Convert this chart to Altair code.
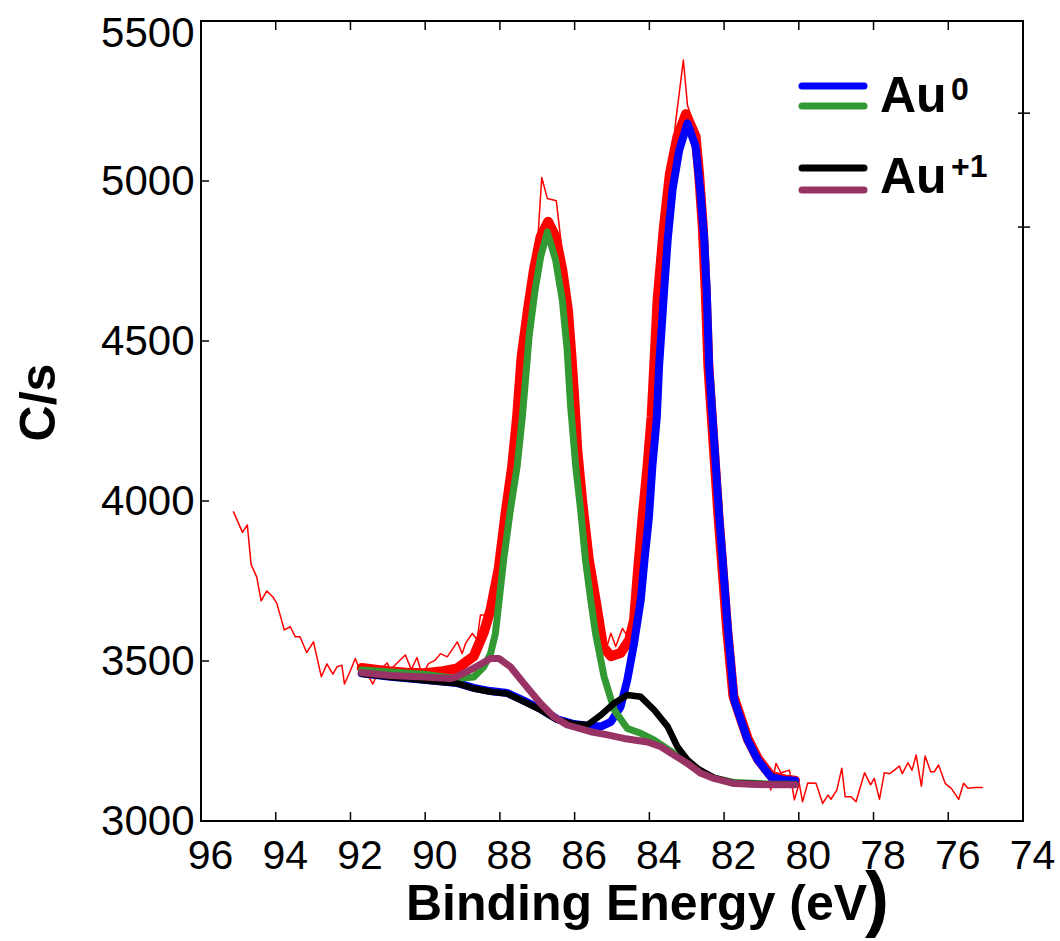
import altair as alt
import pandas as pd

# ---------------- data ----------------
RAW_X = [95.13, 94.89, 94.76, 94.66, 94.51, 94.39, 94.24, 94.08, 93.97, 93.77, 93.61, 93.48, 93.35,
         93.17, 92.99, 92.78, 92.63, 92.47, 92.36, 92.23, 92.16, 92.01, 91.87, 91.74, 91.56, 91.40,
         91.25, 91.02, 90.93, 90.75, 90.53, 90.37, 90.22, 90.08, 89.91, 89.73, 89.59, 89.41, 89.14,
         89.01, 88.92, 88.74, 88.61, 88.52, 88.39, 88.25, 88.10, 87.95, 87.80, 87.65, 87.50, 87.35,
         87.20, 87.05, 86.97, 86.88, 86.73, 86.49, 86.36, 86.27, 86.15, 86.02, 85.90, 85.75, 85.60,
         85.45, 85.30, 85.15, 85.03, 84.90, 84.72, 84.60, 84.45, 84.30, 84.15, 84.00, 83.85, 83.70,
         83.55, 83.40, 83.29, 83.09, 82.98, 82.85, 82.70, 82.55, 82.42, 82.28, 82.12, 81.97, 81.82,
         81.66, 81.50, 81.35, 81.20, 81.05, 80.88, 80.75, 80.61, 80.48, 80.39, 80.25, 80.12, 79.99,
         79.90, 79.76, 79.54, 79.36, 79.22, 79.14, 78.98, 78.85, 78.76, 78.60, 78.47, 78.24, 78.08,
         77.98, 77.84, 77.71, 77.57, 77.44, 77.31, 77.23, 77.08, 76.97, 76.86, 76.72, 76.62, 76.47,
         76.37, 76.26, 76.08, 75.92, 75.72, 75.59, 75.47, 75.30, 75.09]
RAW_Y = [3966, 3902, 3925, 3802, 3763, 3688, 3719, 3701, 3680, 3597, 3607, 3576, 3576,
         3526, 3560, 3451, 3491, 3459, 3482, 3487, 3428, 3467, 3508, 3467, 3461, 3428,
         3467, 3494, 3473, 3494, 3519, 3473, 3511, 3456, 3492, 3503, 3523, 3513, 3560,
         3523, 3555, 3586, 3567, 3644, 3644, 3700, 3780, 3880, 4010, 4140, 4300, 4470,
         4620, 4760, 4847, 5011, 4945, 4938, 4805, 4691, 4560, 4330, 4150, 3960, 3800,
         3680, 3590, 3540, 3587, 3545, 3602, 3580, 3640, 3800, 3980, 4180, 4450, 4720,
         4950, 5070, 5191, 5378, 5237, 5190, 5080, 4830, 4450, 4200, 3940, 3700, 3480,
         3330, 3290, 3240, 3200, 3175, 3180, 3097, 3180, 3150, 3154, 3159, 3066, 3118,
         3060, 3119, 3118, 3055, 3081, 3068, 3097, 3165, 3076, 3076, 3060, 3151, 3113,
         3133, 3068, 3151, 3148, 3159, 3172, 3148, 3182, 3159, 3206, 3109, 3203, 3154,
         3154, 3175, 3117, 3102, 3068, 3118, 3102, 3105, 3105]

ENV_X = [91.70, 91.00, 90.50, 90.04, 89.59, 89.14, 88.70, 88.43, 88.25, 88.03, 87.85, 87.67, 87.54,
         87.42, 87.25, 87.09, 86.91, 86.71, 86.51, 86.33, 86.18, 86.09, 86.02, 85.93, 85.79, 85.62,
         85.44, 85.24, 85.03, 84.77, 84.54, 84.41, 84.32, 84.18, 84.05, 83.94, 83.87, 83.78, 83.61,
         83.45, 83.25, 83.02, 82.76, 82.67, 82.57, 82.49, 82.42, 82.33, 82.24, 82.15, 82.06, 81.92,
         81.75, 81.55, 81.37, 81.10, 80.75, 80.39, 80.10]
ENV_Y = [3478, 3468, 3463, 3462, 3467, 3477, 3515, 3590, 3660, 3790, 3960, 4110, 4263,
         4450, 4597, 4722, 4826, 4873, 4826, 4722, 4597, 4460, 4340, 4160, 3990, 3816,
         3691, 3545, 3515, 3525, 3566, 3628, 3760, 3951, 4107, 4263, 4420, 4628, 4857,
         5023, 5138, 5209, 5138, 5023, 4857, 4650, 4420, 4263, 4107, 3951, 3816, 3600,
         3390, 3320, 3258, 3195, 3142, 3130, 3126]

BLUE_X = [91.70, 90.93, 90.04, 89.14, 88.70, 88.25, 87.80, 87.36, 86.91, 86.46, 86.02, 85.66, 85.30,
          85.03, 84.77, 84.59, 84.41, 84.23, 84.13, 84.01, 83.92, 83.80, 83.74, 83.61, 83.51, 83.38,
          83.20, 82.98, 82.76, 82.64, 82.53, 82.46, 82.40, 82.31, 82.22, 82.13, 82.04, 81.90, 81.73,
          81.55, 81.37, 81.10, 80.75, 80.39, 80.10]
BLUE_Y = [3462, 3451, 3441, 3431, 3416, 3406, 3400, 3376, 3350, 3318, 3303, 3298, 3295,
          3310, 3357, 3441, 3555, 3691, 3816, 3951, 4107, 4263, 4420, 4649, 4816, 4972,
          5097, 5180, 5107, 4972, 4816, 4640, 4420, 4263, 4107, 3951, 3816, 3600, 3378,
          3316, 3253, 3191, 3138, 3128, 3126]

GREEN_X = [91.70, 90.04, 89.14, 88.70, 88.43, 88.25, 88.12, 88.03, 87.90, 87.72, 87.54, 87.40, 87.30,
           87.22, 87.06, 86.91, 86.73, 86.51, 86.33, 86.20, 86.11, 85.97, 85.84, 85.71, 85.57, 85.44,
           85.21, 84.94, 84.59, 84.23, 83.87, 83.34, 82.98, 82.62, 82.27, 81.73, 80.83, 80.10]
GREEN_Y = [3472, 3459, 3445, 3450, 3482, 3523, 3586, 3680, 3816, 3972, 4107, 4263, 4400,
           4513, 4659, 4763, 4841, 4753, 4628, 4472, 4300, 4107, 3972, 3816, 3691, 3586,
           3450, 3347, 3289, 3274, 3253, 3211, 3180, 3152, 3135, 3120, 3116, 3115]

BLACK_X = [91.70, 90.93, 90.04, 89.14, 88.70, 88.25, 87.80, 87.36, 86.91, 86.46, 86.02, 85.66, 85.30,
           84.94, 84.59, 84.23, 83.87, 83.51, 83.25, 82.98, 82.71, 82.27, 81.73, 80.83, 80.10]
BLACK_Y = [3460, 3450, 3440, 3430, 3414, 3404, 3398, 3373, 3347, 3316, 3303, 3300, 3331,
           3368, 3394, 3388, 3347, 3295, 3232, 3191, 3164, 3135, 3118, 3114, 3114]

PURPLE_X = [91.70, 90.93, 90.04, 89.32, 89.14, 88.70, 88.25, 88.03, 87.72, 87.36, 86.91, 86.56, 86.20,
            85.57, 85.12, 84.68, 84.05, 83.69, 83.34, 82.98, 82.62, 82.27, 81.73, 80.83, 80.10]
PURPLE_Y = [3463, 3455, 3450, 3445, 3452, 3478, 3508, 3508, 3482, 3430, 3367, 3326, 3300,
            3279, 3269, 3258, 3247, 3232, 3206, 3180, 3149, 3133, 3117, 3113, 3113]

X_TICKS = [96, 94, 92, 90, 88, 86, 84, 82, 80, 78, 76, 74]
Y_TICKS = [3000, 3500, 4000, 4500, 5000, 5500]
RIGHT_TICKS = [5212, 4856]

LEGEND_LABELS = ["Au", "Au"]
LEGEND_SUPS = ["0", "+1"]
X_TITLE = "Binding Energy (eV"
X_TITLE_END = ")"
Y_TITLE = "C/s"

# ---------------- styling ----------------
FONT = "'Liberation Sans', Arial, sans-serif"
W, H = 822, 800

xscale = alt.Scale(domain=[74, 96], reverse=True, nice=False, zero=False)
yscale = alt.Scale(domain=[3000, 5500], nice=False, zero=False)

xaxis = alt.Axis(values=X_TICKS, title=None, ticks=False, domain=False, grid=False,
                 labelFont=FONT, labelFontSize=41, labelColor="black", labelPadding=15, labelOffset=9,
                 labelFlush=False, labelOverlap=False)
yaxis = alt.Axis(values=Y_TICKS, title=Y_TITLE, ticks=False, domain=False, grid=False,
                 labelFont=FONT, labelFontSize=42, labelColor="black", labelPadding=7,
                 labelFlush=False, labelOverlap=False, labelBaseline="middle",
                 labelOffset={"condition": {"test": "datum.value == 5500", "value": 12}, "value": 0},
                 format="d",
                 titleFont=FONT, titleFontSize=50, titleFontWeight="bold", titleColor="black",
                 titleX=-147, titleY=381, titleBaseline="alphabetic", titleAlign="center")

X = alt.X("x:Q", scale=xscale, axis=xaxis)
Y = alt.Y("y:Q", scale=yscale, axis=yaxis)


def df(xs, ys):
    return pd.DataFrame({"x": xs, "y": ys, "i": list(range(len(xs)))})


def line(xs, ys, color, width):
    return alt.Chart(df(xs, ys)).mark_line(color=color, strokeWidth=width, strokeCap="round",
                                           strokeJoin="round", clip=True).encode(
        x=X, y=Y, order="i:Q")


raw = line(RAW_X, RAW_Y, "#ff0000", 1.5)
env = line(ENV_X, ENV_Y, "#ff0000", 10)
blue = line(BLUE_X, BLUE_Y, "#0000ff", 8)
green = line(GREEN_X, GREEN_Y, "#339933", 7)
black = line(BLACK_X, BLACK_Y, "#000000", 6.5)
purple = line(PURPLE_X, PURPLE_Y, "#993366", 7)

# inward ticks
xt = pd.DataFrame({"x": X_TICKS})
yt = pd.DataFrame({"y": Y_TICKS})
rt = pd.DataFrame({"y": RIGHT_TICKS})
bottom_ticks = alt.Chart(xt).mark_rule(color="black", strokeWidth=1.5).encode(
    x=X, y=alt.value(H - 9), y2=alt.value(H))
top_ticks = alt.Chart(xt).mark_rule(color="black", strokeWidth=1.5).encode(
    x=X, y=alt.value(0), y2=alt.value(9))
left_ticks = alt.Chart(yt).mark_rule(color="black", strokeWidth=1.5).encode(
    y=Y, x=alt.value(0), x2=alt.value(8))
right_ticks = alt.Chart(rt).mark_rule(color="black", strokeWidth=1.5).encode(
    y=Y, x=alt.value(W - 5), x2=alt.value(W + 7))

one = pd.DataFrame({"k": [0]})

# x-axis title with the oversized closing parenthesis
x_title = alt.Chart(one).mark_text(text=X_TITLE, font=FONT, fontSize=50, fontWeight="bold",
                                   align="left", baseline="alphabetic", color="black").encode(
    x=alt.value(205), y=alt.value(899))
x_title_end = alt.Chart(one).mark_text(text=X_TITLE_END, font=FONT, fontSize=72, fontWeight="bold",
                                       align="left", baseline="alphabetic", color="black").encode(
    x=alt.value(664), y=alt.value(902))

# legend
LEG_COLORS = ["#0000ff", "#339933", "#000000", "#993366"]
LEG_Y = [65, 85, 147, 169]
leg_lines = []
for c, yy in zip(LEG_COLORS, LEG_Y):
    leg_lines.append(alt.Chart(one).mark_rule(color=c, strokeWidth=7, strokeCap="round").encode(
        x=alt.value(601), x2=alt.value(663), y=alt.value(yy)))
leg_text = []
for lab, sup, base, sbase in zip(LEGEND_LABELS, LEGEND_SUPS, [91, 172], [79, 156]):
    leg_text.append(alt.Chart(one).mark_text(text=lab, font=FONT, fontSize=50, fontWeight="bold",
                                             align="left", baseline="alphabetic", color="black").encode(
        x=alt.value(679), y=alt.value(base)))
    leg_text.append(alt.Chart(one).mark_text(text=sup, font=FONT, fontSize=32, fontWeight="bold",
                                             align="left", baseline="alphabetic", color="black").encode(
        x=alt.value(750), y=alt.value(sbase)))

chart = alt.layer(raw, env, blue, green, black, purple,
                  bottom_ticks, top_ticks, left_ticks, right_ticks,
                  x_title, x_title_end,
                  *leg_lines, *leg_text).properties(
    width=W, height=H,
    autosize=alt.AutoSizeParams(type="none"),
    padding={"left": 201, "top": 21, "right": 37, "bottom": 120},
    background="white",
).configure_view(stroke="black", strokeWidth=2)

chart.save("out.html", embed_options={"renderer": "svg", "actions": False})
